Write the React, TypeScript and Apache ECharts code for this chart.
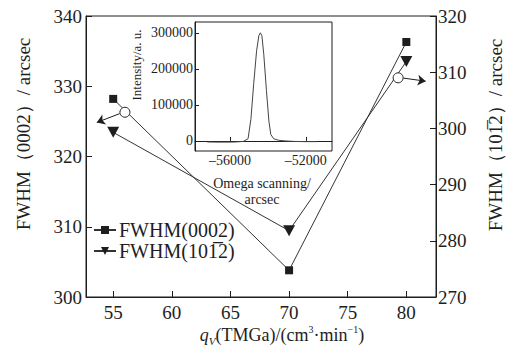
import React, { useEffect, useRef } from "react";
import * as echarts from "echarts";

// Main chart data
const flowRates = [55, 70, 80];
const fwhm0002 = [328.2, 303.8, 336.3];
const fwhm1012 = [299.3, 281.8, 311.9];
const xTickValues = [55, 60, 65, 70, 75, 80];

// Inset rocking curve data
const omegaScan = [-57200, -56500, -55800, -55300, -55050, -54900, -54750, -54600, -54480, -54400, -54320, -54220, -54080, -53950, -53850, -53700, -53450, -53100, -52600, -52000, -51400];
const intensity = [-3000, -3500, -3200, -1500, 6000, 60000, 160000, 250000, 292000, 300000, 292000, 240000, 140000, 55000, 18000, 6000, 2000, 0, -1500, -2000, -2000];
const insetXTicks = [-56000, -52000];
const insetYTicks = [0, 100000, 200000, 300000];

// Annotation markers (data coordinates)
const leftCircle = [56.0, 326.3];
const leftArrowFrom = [55.55, 326.1];
const leftArrowTo = [53.6, 324.85];
const rightCircle = [79.3, 309.0];
const rightArrowFrom = [79.75, 308.95];
const rightArrowTo = [81.65, 308.4];

const FONT = "Liberation Serif";
const INK = "#1e1e1e";
const TRI_DOWN = "path://M0,0 L10,0 L5,9 Z";

export default function App() {
  const ref = useRef<HTMLDivElement>(null);
  useEffect(() => {
    if (!ref.current) return;
    const chart = echarts.init(ref.current, null, { renderer: "svg" });
    const axisLine = { show: true, lineStyle: { color: INK, width: 1 } };
    const plain = (v: number) => (v < 0 ? "\u2013" + Math.abs(v) : String(v));
    const option: any = {
      animation: false,
      backgroundColor: "#fff",
      textStyle: { fontFamily: FONT, color: INK },
      grid: [
        { left: 86, top: 16, width: 350, height: 281, show: true, borderColor: INK, borderWidth: 1, backgroundColor: "transparent" },
        { left: 195, top: 22, width: 137, height: 129, show: true, borderColor: INK, borderWidth: 1, backgroundColor: "transparent" },
      ],
      xAxis: [
        {
          type: "value", gridIndex: 0, min: 52.68, max: 82.53,
          axisLine, splitLine: { show: false },
          axisTick: { inside: true, length: 6, customValues: xTickValues, lineStyle: { color: INK } },
          axisLabel: { customValues: xTickValues, fontSize: 19, fontFamily: FONT, color: INK, margin: 6, formatter: plain },
        },
        {
          type: "value", gridIndex: 1, min: -57850, max: -50620,
          axisLine, splitLine: { show: false },
          axisTick: { inside: true, length: 4, customValues: insetXTicks, lineStyle: { color: INK } },
          axisLabel: { customValues: insetXTicks, fontSize: 14, fontFamily: FONT, color: INK, margin: 2, formatter: plain },
        },
      ],
      yAxis: [
        {
          type: "value", gridIndex: 0, position: "left", min: 300, max: 340, interval: 10,
          axisLine, splitLine: { show: false },
          axisTick: { inside: true, length: 6, lineStyle: { color: INK } },
          axisLabel: { fontSize: 19, fontFamily: FONT, color: INK, margin: 4, formatter: plain },
        },
        {
          type: "value", gridIndex: 0, position: "right", min: 270, max: 320, interval: 10,
          axisLine, splitLine: { show: false },
          axisTick: { inside: true, length: 6, lineStyle: { color: INK } },
          axisLabel: { fontSize: 19, fontFamily: FONT, color: INK, margin: 2, formatter: plain },
        },
        {
          type: "value", gridIndex: 1, min: -28000, max: 330000,
          axisLine, splitLine: { show: false },
          axisTick: { inside: true, length: 4, customValues: insetYTicks, lineStyle: { color: INK } },
          axisLabel: { customValues: insetYTicks, fontSize: 14, fontFamily: FONT, color: INK, margin: 2, formatter: plain },
        },
      ],
      legend: {
        orient: "vertical", left: 88, top: 215, itemGap: 1, itemWidth: 22, itemHeight: 10,
        textStyle: { fontSize: 20, fontFamily: FONT, color: INK, padding: [0, 0, 0, -2] },
        data: ["FWHM(0002)", "FWHM(101\u03052)"],
      },
      series: [
        {
          name: "FWHM(0002)", type: "line", xAxisIndex: 0, yAxisIndex: 0,
          data: flowRates.map((x, i) => [x, fwhm0002[i]]),
          symbol: "rect", symbolSize: 8,
          itemStyle: { color: INK },
          lineStyle: { color: "#333", width: 1 },
          markLine: {
            silent: true, symbol: ["none", "arrow"], symbolSize: 8,
            lineStyle: { color: INK, width: 1, type: "solid" }, label: { show: false },
            data: [[{ coord: leftArrowFrom }, { coord: leftArrowTo }]],
          },
          markPoint: {
            silent: true, label: { show: false },
            data: [{ coord: leftCircle, symbol: "circle", symbolSize: 10, itemStyle: { color: "#fff", borderColor: INK, borderWidth: 1 } }],
          },
        },
        {
          name: "FWHM(101\u03052)", type: "line", xAxisIndex: 0, yAxisIndex: 1,
          data: flowRates.map((x, i) => [x, fwhm1012[i]]),
          symbol: TRI_DOWN, symbolSize: [12, 11],
          itemStyle: { color: INK },
          lineStyle: { color: "#333", width: 1 },
          markLine: {
            silent: true, symbol: ["none", "arrow"], symbolSize: 8,
            lineStyle: { color: INK, width: 1, type: "solid" }, label: { show: false },
            data: [[{ coord: rightArrowFrom }, { coord: rightArrowTo }]],
          },
          markPoint: {
            silent: true, label: { show: false },
            data: [{ coord: rightCircle, symbol: "circle", symbolSize: 10, itemStyle: { color: "#fff", borderColor: INK, borderWidth: 1 } }],
          },
        },
        {
          name: "inset", type: "line", xAxisIndex: 1, yAxisIndex: 2,
          data: omegaScan.map((x, i) => [x, intensity[i]]),
          showSymbol: false, symbol: "none",
          lineStyle: { color: "#444", width: 1 },
        },
      ],
      graphic: [
        { type: "text", x: 23, y: 134, rotation: Math.PI / 2,
          style: { text: "FWHM（0002）/ arcsec", fontFamily: FONT, fontSize: 19, fill: INK, align: "center", verticalAlign: "middle" } },
        { type: "text", x: 495, y: 135, rotation: Math.PI / 2,
          style: { text: "FWHM（101\u03052）/ arcsec", fontFamily: FONT, fontSize: 19, fill: INK, align: "center", verticalAlign: "middle" } },
        { type: "text", x: 136, y: 65, rotation: Math.PI / 2,
          style: { text: "Intensity/a. u.", fontFamily: FONT, fontSize: 13, fill: INK, align: "center", verticalAlign: "middle" } },
        { type: "text", x: 262, y: 191,
          style: { text: "Omega scanning/\narcsec", fontFamily: FONT, fontSize: 14, lineHeight: 16, fill: INK, align: "center", verticalAlign: "middle" } },
        { type: "text", x: 282, y: 335,
          style: {
            text: "{i|q}{s|V}{n|(TMGa)/(cm}{p|3}{n|·min}{p|−1}{n|)}",
            align: "center", verticalAlign: "middle", fill: INK,
            rich: {
              i: { fontFamily: FONT, fontSize: 18, fontStyle: "italic", lineHeight: 22, fill: INK },
              s: { fontFamily: FONT, fontSize: 11, fontStyle: "italic", lineHeight: 14, verticalAlign: "bottom", fill: INK },
              n: { fontFamily: FONT, fontSize: 18, lineHeight: 22, fill: INK },
              p: { fontFamily: FONT, fontSize: 10, lineHeight: 12, verticalAlign: "top", fill: INK },
            },
          } },
      ],
    };
    chart.setOption(option);
    return () => chart.dispose();
  }, []);
  return <div ref={ref} style={{ position: "fixed", left: 0, top: 0, width: 515, height: 357 }} />;
}
